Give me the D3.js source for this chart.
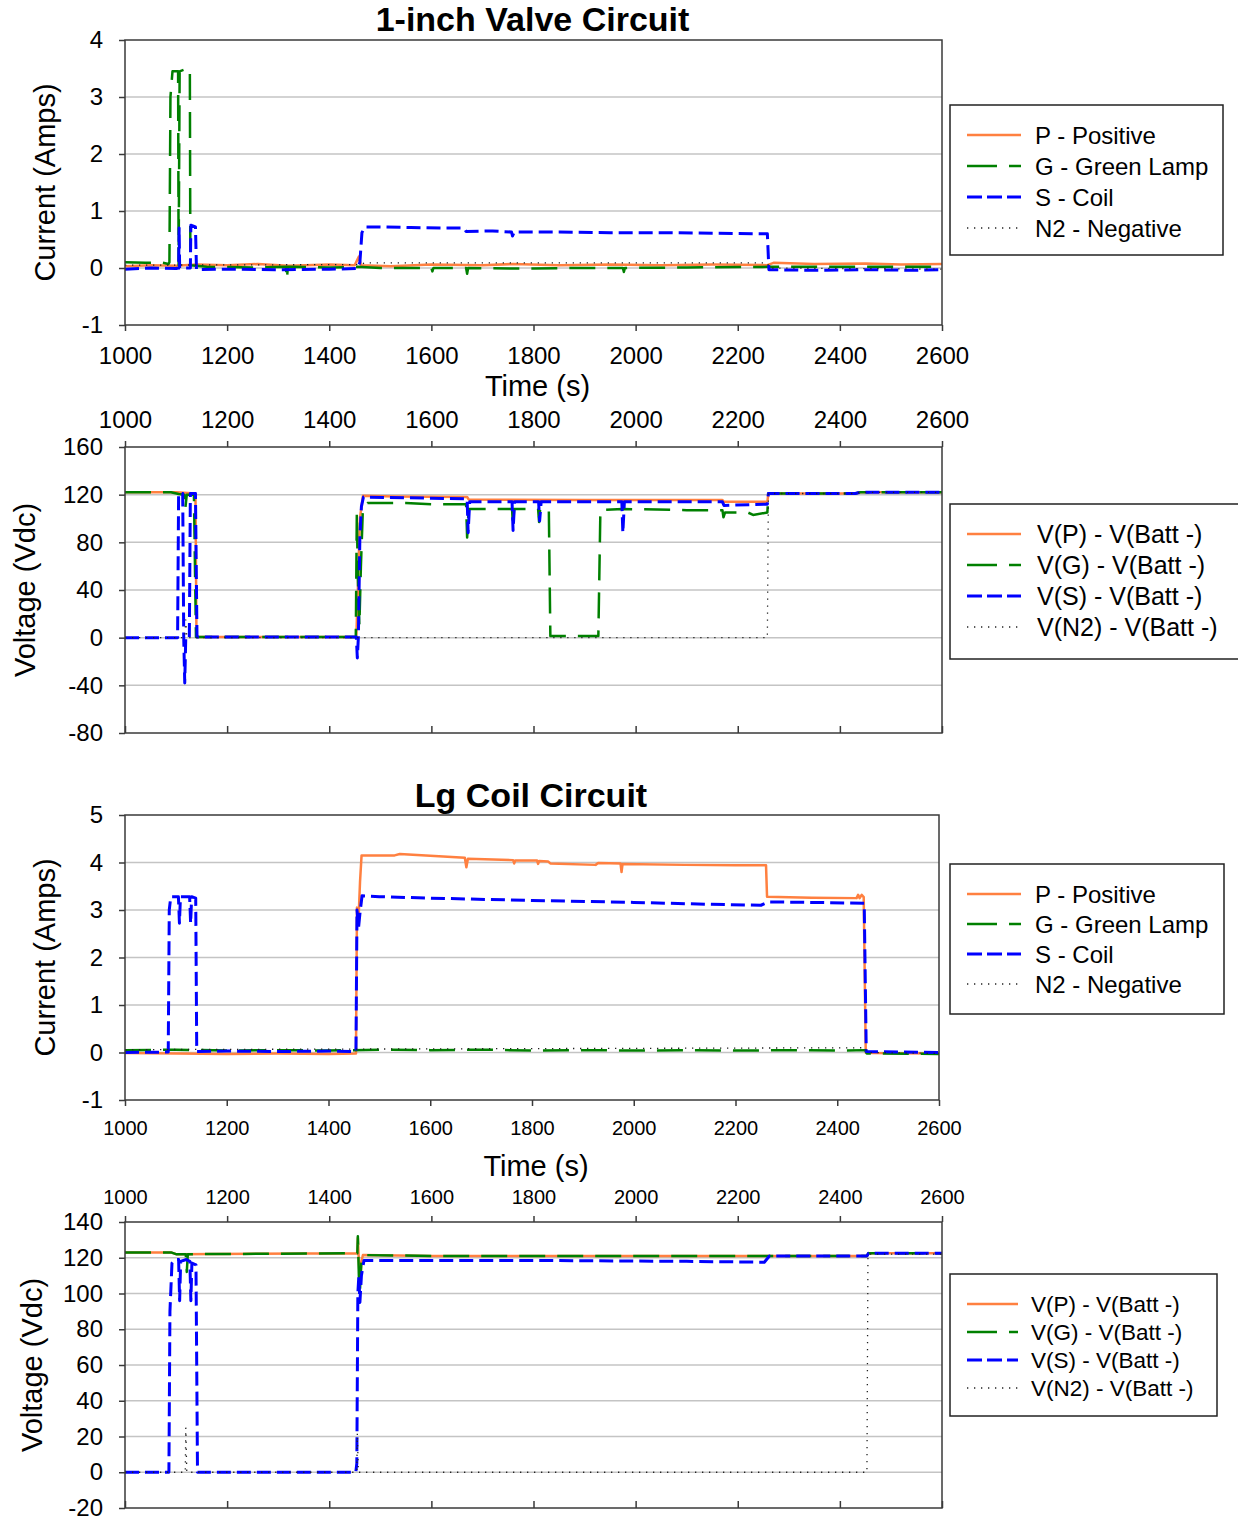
<!DOCTYPE html>
<html lang="en">
<head>
<meta charset="UTF-8">
<title>Valve Circuits</title>
<script src="https://d3js.org/d3.v7.min.js"></script>
<style>
  body { margin: 0; background: #fff; }
  svg { display: block; font-family: "Liberation Sans", Arial, sans-serif; }
</style>
</head>
<body>
<svg width="1238" height="1521"></svg>
<script>
// ---- data: [time (s), value] ----
const xTicks = [1000, 1200, 1400, 1600, 1800, 2000, 2200, 2400, 2600];
const yTicksCur1 = [-1, 0, 1, 2, 3, 4];
const yTicksVolt1 = [-80, -40, 0, 40, 80, 120, 160];
const yTicksCur2 = [-1, 0, 1, 2, 3, 4, 5];
const yTicksVolt2 = [-20, 0, 20, 40, 60, 80, 100, 120, 140];

const legendCurrent = ["P - Positive", "G - Green Lamp", "S - Coil", "N2 - Negative"];
const legendVoltage = ["V(P) - V(Batt -)", "V(G) - V(Batt -)", "V(S) - V(Batt -)", "V(N2) - V(Batt -)"];

// 1-inch valve, current
const c1P = [[1000,0.03],[1050,0.05],[1100,0.04],[1140,0.06],[1200,0.05],[1260,0.07],[1320,0.04],[1400,0.06],[1450,0.05],[1458,0.2],[1462,0.05],[1520,0.03],[1600,0.06],[1700,0.05],[1760,0.07],[1850,0.05],[1950,0.06],[2050,0.05],[2150,0.06],[2258,0.05],[2270,0.09],[2350,0.07],[2450,0.08],[2520,0.06],[2600,0.07]];
const c1G = [[1000,0.1],[1040,0.09],[1070,0.1],[1085,0.07],[1087,0.1],[1089,3.0],[1093,3.45],[1104,3.45],[1105,0.05],[1107,3.45],[1116,3.48],[1127,3.5],[1128,0.05],[1160,0.02],[1250,0.01],[1315,0.02],[1317,-0.2],[1319,0.02],[1400,0.01],[1455,0.02],[1500,0.0],[1600,0.0],[1602,-0.06],[1604,0.0],[1668,0.0],[1670,-0.1],[1672,0.0],[1760,-0.01],[1900,0.0],[1975,0.0],[1977,-0.07],[1979,0.0],[2100,0.01],[2260,0.02],[2400,0.02],[2600,0.02]];
const c1S = [[1000,-0.02],[1050,0.0],[1100,-0.01],[1105,0.0],[1106,0.7],[1107,0.0],[1128,0.0],[1129,0.75],[1138,0.72],[1140,-0.03],[1200,-0.02],[1300,-0.03],[1400,-0.02],[1455,-0.01],[1460,0.1],[1464,0.62],[1470,0.72],[1500,0.72],[1560,0.71],[1620,0.7],[1664,0.7],[1668,0.64],[1720,0.65],[1757,0.63],[1759,0.56],[1762,0.63],[1850,0.63],[1950,0.62],[2050,0.62],[2150,0.61],[2258,0.6],[2261,-0.03],[2350,-0.04],[2450,-0.03],[2550,-0.04],[2600,-0.03]];
const c1N = [[1000,0.05],[1460,0.06],[1470,0.09],[2258,0.09],[2262,0.0],[2600,-0.02]];

// 1-inch valve, voltage
const v1P = [[1000,122],[1100,122],[1138,121],[1140,0.5],[1300,0.5],[1453,0.5],[1456,40],[1460,100],[1466,119],[1530,118.5],[1670,118],[1673,116],[1900,115.5],[2170,115.5],[2173,114],[2258,114],[2260,121],[2430,121],[2440,122],[2600,122]];
const v1G = [[1000,122],[1090,122],[1105,120.5],[1116,120],[1118,108],[1121,120],[1135,120],[1139,0.5],[1300,0.5],[1452,0.5],[1454,105],[1456,50],[1459,10],[1462,60],[1466,110],[1475,113],[1550,113],[1600,112],[1668,112],[1670,84],[1673,108],[1758,108],[1760,92],[1762,108],[1809,108],[1811,97],[1813,108],[1830,108],[1833,1.5],[1927,1.5],[1931,107],[1975,108],[2100,107],[2170,107],[2172,101],[2175,105],[2220,105],[2230,103],[2258,105],[2260,121],[2430,121],[2440,122],[2600,122]];
const v1S = [[1000,0],[1103,0],[1105,121],[1113,121],[1115,0],[1117,-38],[1119,0],[1126,0],[1128,121],[1138,121],[1141,0.5],[1300,0.5],[1453,0.5],[1455,-17],[1457,0],[1460,85],[1463,110],[1467,118],[1600,117],[1670,116.5],[1672,88],[1675,114],[1758,114],[1760,90],[1763,114],[1810,114],[1812,98],[1815,114],[1973,114],[1975,88],[1978,114],[2170,114],[2173,111],[2258,112],[2260,121],[2430,121],[2440,122],[2600,122]];
const v1N = [[1000,0],[1117,0],[1119,15],[1121,0],[2258,0],[2260,121],[2430,121],[2440,122],[2600,122]];

// Lg coil, current
const c2P = [[1000,-0.01],[1100,-0.02],[1200,-0.03],[1300,-0.02],[1400,-0.03],[1454,-0.02],[1456,3.05],[1459,2.8],[1462,3.6],[1465,4.15],[1530,4.15],[1540,4.18],[1600,4.14],[1668,4.1],[1671,3.9],[1674,4.08],[1763,4.05],[1765,3.98],[1767,4.04],[1810,4.04],[1812,3.97],[1814,4.03],[1832,4.02],[1836,3.98],[1925,3.95],[1930,3.99],[1974,3.98],[1976,3.8],[1978,3.97],[2100,3.95],[2200,3.94],[2260,3.94],[2262,3.28],[2350,3.26],[2438,3.25],[2441,3.32],[2444,3.25],[2448,3.32],[2452,3.27],[2456,0.0],[2470,-0.01],[2600,-0.02]];
const c2G = [[1000,0.05],[1100,0.06],[1200,0.04],[1300,0.05],[1400,0.04],[1500,0.06],[1600,0.05],[1700,0.06],[1800,0.04],[1900,0.05],[2000,0.04],[2100,0.05],[2200,0.04],[2300,0.05],[2400,0.04],[2455,0.05],[2458,-0.02],[2600,-0.03]];
const c2S = [[1000,0.0],[1085,0.01],[1087,3.0],[1090,3.28],[1105,3.28],[1107,2.72],[1109,3.28],[1127,3.28],[1129,2.72],[1131,3.28],[1139,3.25],[1141,0.02],[1200,0.03],[1300,0.02],[1400,0.03],[1454,0.02],[1456,3.0],[1459,2.62],[1462,2.95],[1466,3.3],[1500,3.28],[1600,3.25],[1800,3.2],[2000,3.16],[2150,3.12],[2250,3.1],[2265,3.17],[2350,3.16],[2453,3.14],[2457,0.02],[2600,0.0]];
const c2N = [[1000,0.06],[2455,0.1],[2458,0.0],[2600,-0.02]];

// Lg coil, voltage
const v2P = [[1000,123],[1090,123],[1100,122],[1455,122.5],[1456,131],[1458,118],[1460,106],[1463,118],[1466,121.5],[1600,121],[2000,121],[2453,121],[2456,122.5],[2600,122.5]];
const v2G = [[1000,123],[1090,123],[1100,122],[1119,122],[1121,112],[1123,122],[1455,122.5],[1456,132],[1458,110],[1460,101],[1463,118],[1466,121.5],[1600,121],[2000,121],[2453,121],[2456,122.5],[2600,122.5]];
const v2S = [[1000,0],[1086,0],[1088,90],[1092,117],[1097,119],[1105,119],[1107,96],[1109,118],[1120,119],[1127,118],[1129,96],[1131,117],[1139,116],[1142,0],[1300,0],[1452,0],[1454,5],[1456,100],[1458,110],[1460,95],[1463,110],[1468,118.5],[1800,118.5],[2100,118],[2252,117.5],[2262,121],[2453,121],[2456,122.5],[2600,122.5]];
const v2N = [[1000,0],[1118,0],[1119,25],[1121,0],[1454,0],[1455,22],[1457,0],[2453,0],[2455,122],[2600,122]];

// ---- drawing ----
const svg = d3.select("svg");
const FONT = 24;
const fmt = d => String(d);   // plain integers, hyphen minus

const styles = [
  { color: "#ff8040", width: 2.5, dash: null },
  { color: "#008000", width: 2.5, dash: "26,12" },
  { color: "#0000ff", width: 3, dash: "14,6" },
  { color: "#222", width: 1.3, dash: "1.3,5.7" }
];

const panels = [
  { series: [c1P, c1G, c1S, c1N], ydom: [-1, 4], yticks: yTicksCur1,
    x0: 125, x1: 942, y0: 40, y1: 325, xlab: "bottom", xfs: FONT,
    title: "1-inch Valve Circuit", titleY: 31, timeY: 396,
    ylabel: "Current (Amps)", ylabX: 45,
    legend: legendCurrent, lg: { x: 950, y: 105, w: 273, h: 150, row: 31, fs: 24 } },
  { series: [v1P, v1G, v1S, v1N], ydom: [-80, 160], yticks: yTicksVolt1,
    x0: 125, x1: 942, y0: 447, y1: 733, xlab: "top", xfs: FONT,
    ylabel: "Voltage (Vdc)", ylabX: 25,
    legend: legendVoltage, lg: { x: 950, y: 504, w: 300, h: 155, row: 31, fs: 25 } },
  { series: [c2P, c2G, c2S, c2N], ydom: [-1, 5], yticks: yTicksCur2,
    x0: 125, x1: 939, y0: 815, y1: 1100, xlab: "bottom", xfs: 20,
    title: "Lg Coil Circuit", titleY: 807, timeY: 1176,
    ylabel: "Current (Amps)", ylabX: 45,
    legend: legendCurrent, lg: { x: 950, y: 864, w: 274, h: 150, row: 30, fs: 24 } },
  { series: [v2P, v2G, v2S, v2N], ydom: [-20, 140], yticks: yTicksVolt2,
    x0: 125, x1: 942, y0: 1222, y1: 1508, xlab: "top", xfs: 20,
    ylabel: "Voltage (Vdc)", ylabX: 32,
    legend: legendVoltage, lg: { x: 950, y: 1274, w: 267, h: 142, row: 28, fs: 22.5 } }
];

panels.forEach(p => {
  const x = d3.scaleLinear().domain([1000, 2600]).range([p.x0, p.x1]);
  const y = d3.scaleLinear().domain(p.ydom).range([p.y1, p.y0]);
  const g = svg.append("g");

  // gridlines
  g.selectAll(".grid").data(p.yticks.filter(v => v !== p.ydom[0] && v !== p.ydom[1]))
    .enter().append("line")
    .attr("x1", p.x0).attr("x2", p.x1)
    .attr("y1", d => y(d)).attr("y2", d => y(d))
    .attr("stroke", "#c4c4c4").attr("stroke-width", 1.5);

  // series
  const line = d3.line().x(d => x(d[0])).y(d => y(d[1]));
  p.series.forEach((s, i) => {
    const st = styles[i];
    g.append("path").datum(s)
      .attr("d", line)
      .attr("fill", "none")
      .attr("stroke", st.color)
      .attr("stroke-width", st.width)
      .attr("stroke-dasharray", st.dash)
      .attr("stroke-linejoin", "round");
  });

  // frame
  g.append("rect")
    .attr("x", p.x0).attr("y", p.y0)
    .attr("width", p.x1 - p.x0).attr("height", p.y1 - p.y0)
    .attr("fill", "none").attr("stroke", "#3a3a3a").attr("stroke-width", 1.5);

  // y axis
  const ya = g.append("g").attr("transform", `translate(${p.x0},0)`)
    .call(d3.axisLeft(y).tickValues(p.yticks).tickFormat(fmt).tickSize(6).tickPadding(16).tickSizeOuter(0));
  ya.select(".domain").remove();
  ya.selectAll("line").attr("stroke", "#3a3a3a").attr("stroke-width", 1.5);
  ya.selectAll("text").attr("font-size", FONT).attr("fill", "#000")
    .attr("font-family", "Liberation Sans, Arial, sans-serif");

  // x axis
  if (p.xlab === "bottom") {
    const xa = g.append("g").attr("transform", `translate(0,${p.y1})`)
      .call(d3.axisBottom(x).tickValues(xTicks).tickFormat(fmt).tickSize(6).tickPadding(p.xfs === FONT ? 16 : 15).tickSizeOuter(0));
    xa.select(".domain").remove();
    xa.selectAll("line").attr("stroke", "#3a3a3a").attr("stroke-width", 1.5);
    xa.selectAll("text").attr("font-size", p.xfs).attr("fill", "#000")
      .attr("font-family", "Liberation Sans, Arial, sans-serif");
  } else {
    const xa = g.append("g").attr("transform", `translate(0,${p.y0})`)
      .call(d3.axisTop(x).tickValues(xTicks).tickFormat(fmt).tickSize(6).tickPadding(p.xfs === FONT ? 13 : 12).tickSizeOuter(0));
    xa.select(".domain").remove();
    xa.selectAll("line").attr("stroke", "#3a3a3a").attr("stroke-width", 1.5);
    xa.selectAll("text").attr("font-size", p.xfs).attr("fill", "#000")
      .attr("font-family", "Liberation Sans, Arial, sans-serif");
    // inside ticks on the bottom edge
    const xb = g.append("g").attr("transform", `translate(0,${p.y1})`)
      .call(d3.axisBottom(x).tickValues(xTicks).tickSize(-7).tickFormat("").tickSizeOuter(0));
    xb.select(".domain").remove();
    xb.selectAll("line").attr("stroke", "#3a3a3a").attr("stroke-width", 1.5);
  }

  if (p.title) {
    svg.append("text").attr("x", (p.x0 + p.x1) / 2 - 1).attr("y", p.titleY)
      .attr("text-anchor", "middle").attr("font-size", 34).attr("font-weight", "bold")
      .text(p.title);
    svg.append("text").attr("x", (p.x0 + p.x1) / 2 + 4).attr("y", p.timeY)
      .attr("text-anchor", "middle").attr("font-size", 29).text("Time (s)");
  }

  svg.append("text")
    .attr("transform", `translate(${p.ylabX},${(p.y0 + p.y1) / 2}) rotate(-90)`)
    .attr("text-anchor", "middle").attr("dy", "0.35em")
    .attr("font-size", 29).text(p.ylabel);

  // legend
  const lg = p.lg;
  const L = svg.append("g").attr("transform", `translate(${lg.x},${lg.y})`);
  L.append("rect").attr("width", lg.w).attr("height", lg.h)
    .attr("fill", "#fff").attr("stroke", "#222").attr("stroke-width", 1.5);
  p.legend.forEach((name, i) => {
    const st = styles[i];
    const yy = 30 + i * lg.row;
    L.append("line").attr("x1", 17).attr("x2", lg.fs < 23 ? 68 : 71).attr("y1", yy).attr("y2", yy)
      .attr("stroke", st.color).attr("stroke-width", st.width)
      .attr("stroke-dasharray", i === 1 ? "30,12" : (i === 2 ? "15,5" : st.dash));
    L.append("text").attr("x", lg.fs < 23 ? 81 : (lg.fs > 24 ? 87 : 85)).attr("y", yy)
      .attr("dy", "0.36em").attr("font-size", lg.fs).text(name);
  });
});
</script>
</body>
</html>
